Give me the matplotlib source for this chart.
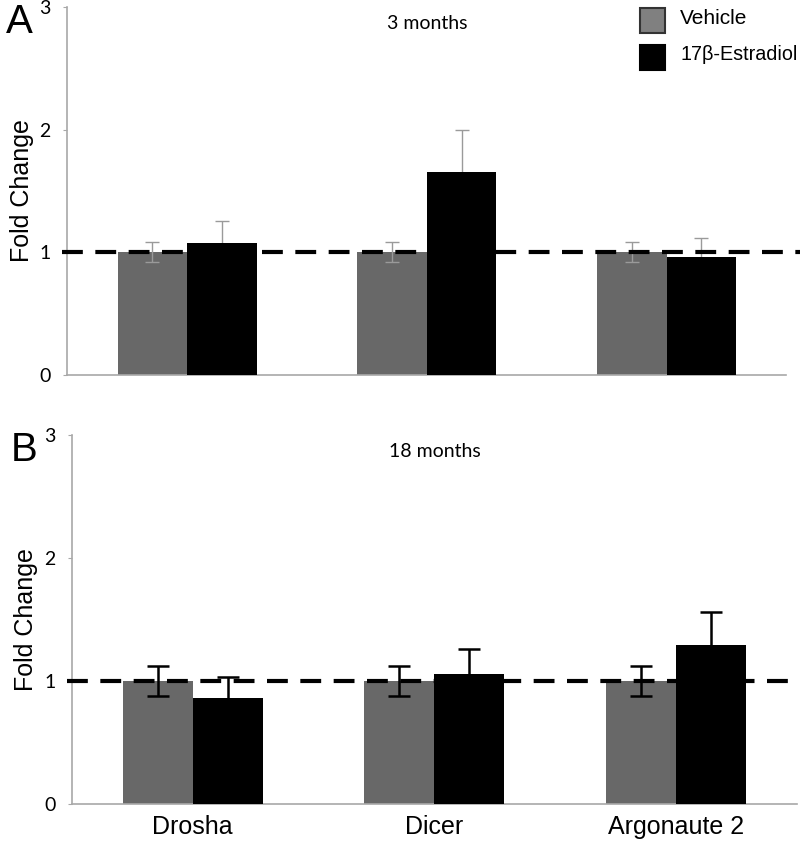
import numpy as np
import matplotlib.pyplot as plt
from matplotlib.patches import Rectangle

genes = ["Drosha", "Dicer", "Argonaute 2"]

vehicle_3m = [1.0, 1.0, 1.0]
vehicle_3m_err = [0.08, 0.08, 0.08]
estradiol_3m = [1.075, 1.655, 0.965]
estradiol_3m_err = [0.18, 0.345, 0.155]

vehicle_18m = [1.0, 1.0, 1.0]
vehicle_18m_err = [0.12, 0.12, 0.12]
estradiol_18m = [0.86, 1.06, 1.295]
estradiol_18m_err = [0.17, 0.2, 0.265]

grey = "#686868"
spine_col = "#a8a8a8"
w = 0.29
x = np.arange(len(genes))

fig = plt.figure(figsize=(8, 8.43), dpi=100)
ax1 = fig.add_axes([0.084, 0.5552, 0.899, 0.4365])
ax2 = fig.add_axes([0.09, 0.0463, 0.906, 0.4377])


def panel(ax, veh, veh_err, est, est_err, ecol, elw, cap, title, letter):
    ax.bar(x - w / 2, veh, w, color=grey, zorder=2)
    ax.bar(x + w / 2, est, w, color="black", zorder=4)
    ax.errorbar(x - w / 2, veh, yerr=veh_err, fmt="none", ecolor=ecol,
                elinewidth=elw, capsize=cap, capthick=elw, zorder=5)
    ax.errorbar(x + w / 2, est, yerr=est_err, fmt="none", ecolor=ecol,
                elinewidth=elw, capsize=cap, capthick=elw, zorder=3)
    ax.plot([-0.52, 2.62], [1, 1], ls=(0, (5, 3)), color="black", lw=3,
            zorder=6, clip_on=False)
    ax.set_xlim(-0.5, 2.5)
    ax.set_ylim(0, 3)
    ax.set_yticks([0, 1, 2, 3])
    ax.tick_params(axis="y", length=3, color=spine_col, labelsize=14, pad=9)
    for lab in ax.get_yticklabels():
        lab.set_family("Lato")
    ax.spines["top"].set_visible(False)
    ax.spines["right"].set_visible(False)
    ax.spines["left"].set_color(spine_col)
    ax.spines["bottom"].set_color(spine_col)
    ax.spines["left"].set_linewidth(1.2)
    ax.spines["bottom"].set_linewidth(1.2)
    ax.set_ylabel("Fold Change", fontsize=18, family="Liberation Sans", labelpad=4)
    ax.text(0.5, 0.955, title, transform=ax.transAxes, ha="center", va="center",
            fontsize=14, family="Lato")
    ax.text(-0.085, 0.96, letter, transform=ax.transAxes, ha="left", va="center",
            fontsize=29, family="Liberation Sans")


panel(ax1, vehicle_3m, vehicle_3m_err, estradiol_3m, estradiol_3m_err,
      "#9a9a9a", 1.0, 5, "3 months", "A")
panel(ax2, vehicle_18m, vehicle_18m_err, estradiol_18m, estradiol_18m_err,
      "black", 1.8, 8, "18 months", "B")

ax1.set_xticks([])
ax2.set_xticks(x)
ax2.set_xticklabels(genes, fontsize=18, family="Liberation Sans")
ax2.tick_params(axis="x", length=0, pad=8)

# legend drawn as boxes + text in figure coords
fig.add_artist(Rectangle((640 / 800, 1 - 33 / 843), 25 / 800, 25 / 843,
                         facecolor="#808080", edgecolor="#333333", lw=1.5,
                         transform=fig.transFigure))
fig.add_artist(Rectangle((640 / 800, 1 - 70 / 843), 25 / 800, 25 / 843,
                         facecolor="black", edgecolor="black", lw=1.5,
                         transform=fig.transFigure))
fig.text(680 / 800, 1 - 18 / 843, "Vehicle", fontsize=15, family="Liberation Sans",
         va="center")
fig.text(680 / 800, 1 - 55 / 843, "17β-Estradiol", fontsize=14.2,
         family="Liberation Sans", va="center")

fig.savefig("out.png", dpi=100)
